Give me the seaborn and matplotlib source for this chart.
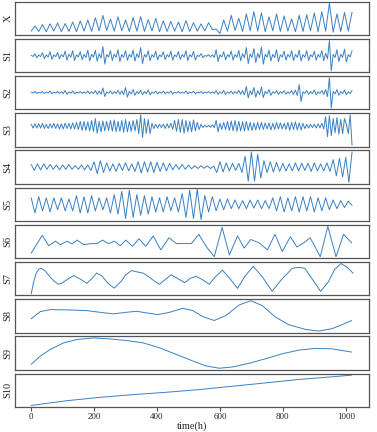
import numpy as np
import matplotlib
matplotlib.use('Agg')
import matplotlib.pyplot as plt
import seaborn as sns

# sampling times (h)
t_x = np.arange(0, 1024, 12)
t_fast = np.arange(0, 1024, 6)
t_s4 = np.arange(0, 1030, 10)
t_s5 = np.arange(0, 1024, 12)

# original series: daily troughs (t=0,24,...) and peaks (t=12,36,...)
x_troughs = [0.8, 0.7, 0.6, 0.8, 0.6, 0.7, 0.6, 0.8, 0.7, 0.9, 1.0, 0.8, 0.9, 0.7, 0.8,
             0.7, 0.9, 0.6, 0.7, 0.8, 0.6, 0.7, 0.8, 0.9, 1.3, 0.0, 0.8, 1.0, 0.7, 0.9,
             0.8, 0.6, 0.9, 0.7, 0.8, 0.6, 0.7, 0.9, 0.6, 0.8, 0.5, 0.7, 0.8]
x_peaks = [2.5, 3.0, 3.2, 3.5, 3.3, 3.8, 4.2, 4.5, 5.2, 6.0, 4.8, 5.5, 4.5, 5.3, 5.6,
           4.6, 5.0, 4.2, 4.0, 3.8, 4.3, 3.6, 3.2, 3.6, 1.5, 4.5, 6.0, 5.0, 6.5, 7.2,
           6.8, 5.5, 6.5, 5.8, 4.8, 6.0, 6.2, 6.8, 7.2, 10.0, 6.5, 7.0, 7.0]

s1 = [0.5, -0.6, 2.0, -1.8,  0.8, -0.7, 3.0, -2.6,  1.0, -1.2, 4.0, -3.5,  0.9, -0.8, 3.2, -2.8,
      1.2, -1.0, 4.5, -4.2,  1.5, -1.3, 5.0, -4.6,  1.0, -1.1, 4.2, -3.8,  1.4, -1.6, 5.5, -5.0,
      1.5, -1.2, 5.4, -5.2,  2.0, -2.2, 9.0, -8.0,  1.3, -1.2, 5.0, -4.5,  1.6, -1.5, 6.0, -5.6,
      1.2, -1.4, 5.0, -4.4,  1.5, -1.3, 5.6, -5.0,  2.0, -1.8, 8.0, -7.5,  1.3, -1.2, 5.0, -4.8,
      1.1, -1.3, 4.6, -4.0,  1.0, -0.9, 4.0, -3.7,  1.2, -1.1, 4.5, -4.2,  1.0, -1.0, 4.2, -3.6,
      1.3, -1.2, 5.0, -4.7,  1.1, -1.0, 4.4, -4.1,  0.5, -0.6, 2.2, -1.8,  0.3, -0.4, 1.2, -1.0,
      1.0, -1.5, 6.0, -5.5,  1.0, -1.1, 4.0, -3.8,  1.2, -1.0, 4.6, -4.3,  1.3, -1.4, 5.2, -4.8,
      2.0, -1.8, 8.0, -7.6,  1.8, -1.6, 7.0, -6.5,  2.2, -2.0, 8.5, -8.0,  1.4, -1.3, 5.5, -5.0,
      1.5, -1.6, 6.0, -5.6,  1.1, -1.2, 4.5, -4.2,  1.3, -1.2, 5.0, -4.6,  1.4, -1.5, 5.6, -5.1,
      1.2, -1.3, 5.0, -4.7,  1.1, -1.0, 4.5, -4.2,  1.3, -1.2, 5.0, -4.8,  2.5, -3.0, 15.0, -14.5,
      1.5, -1.6, 6.0, -5.5,  1.6, -1.5, 6.5, -6.0,  1.3, -1.2, 5.0]

s2 = [0.4, -0.5, 1.0, -0.9,  0.3, -0.4, 0.9, -1.0,  0.6, -0.7, 1.5, -1.3,  0.4, -0.5, 1.0, -0.9,
      0.8, -1.0, 2.0, -1.8,  0.6, -0.7, 1.5, -1.4,  0.4, -0.5, 1.1, -0.9,  0.6, -0.7, 1.5, -1.3,
      0.8, -0.9, 2.0, -1.8,  1.5, -1.8, 4.5, -4.0,  0.6, -0.7, 1.5, -1.4,  0.8, -0.9, 2.0, -1.8,
      1.8, -2.0, 5.0, -4.6,  1.2, -1.4, 3.0, -2.7,  1.0, -1.1, 2.5, -2.2,  1.0, -1.2, 2.4, -2.3,
      0.6, -0.7, 1.5, -1.4,  0.5, -0.6, 1.4, -1.3,  0.6, -0.7, 1.5, -1.4,  0.4, -0.5, 1.0, -0.9,
      0.6, -0.7, 1.6, -1.4,  0.6, -0.6, 1.4, -1.3,  0.4, -0.4, 1.0, -0.9,  0.3, -0.4, 0.9, -0.8,
      0.8, -0.9, 2.0, -1.8,  0.7, -0.9, 2.0, -1.9,  0.6, -0.7, 1.5, -1.4,  0.8, -0.9, 2.1, -1.8,
      2.0, -2.4, 6.0, -5.5,  1.8, -2.0, 5.0, -4.6,  2.0, -2.2, 5.5, -5.0,  1.2, -1.3, 3.0, -2.8,
      0.8, -0.9, 2.0, -1.8,  0.8, -0.8, 1.9, -1.8,  0.8, -0.9, 2.0, -1.9,  2.5, -3.0, 8.0, -9.0,
      0.8, -0.9, 2.0, -1.8,  1.0, -1.1, 2.5, -2.3,  0.8, -0.9, 2.0, -1.9,  3.0, -4.0, 15.0, -15.5,
      1.2, -1.4, 3.0, -2.8,  1.0, -1.1, 2.5, -2.3,  0.8, -0.9, 2.0]

s3 = [2, -2, 2.5, -2,  2.5, -2, 3, -2.5,  2, -2.5, 2.5, -2,  3, -2.5, 2.5, -3,
      2.5, -3, 3, -2.5,  3, -3, 3.5, -3,  4, -3.5, 5, -4.5,  5, -4.5, 4.5, -5,
      6, -5.5, 8, -7.5,  5, -6, 5.5, -5,  5, -4.5, 6, -5.5,  6.5, -6, 5, -5.5,
      6, -6.5, 7, -6,  5, -5.5, 6, -5,  7, -8, 12, -12,  8, -7.5, 7, -8,
      3, -2.5, 2, -2,  2, -1.5, 2, -2.5,  2.5, -2, 3, -3.5,  6, -5.5, 7, -6.5,
      7, -7.5, 6, -6,  5, -6, 6.5, -5,  4, -3.5, 2, -1.5,  1, -1, 1, -1.2,
      1.5, -1.5, 6, -6,  3, -3.5, 4, -3.5,  5, -4.5, 5.5, -5,  6, -5.5, 5, -5,
      4.5, -5, 5, -4.5,  4, -4.5, 3.5, -4,  4, -3.5, 4, -3.5,  3.5, -3, 3.5, -4,
      3, -3.5, 4, -3,  3.5, -3, 3, -3.5,  4, -4.5, 4, -3.5,  4.5, -4, 3.5, -4,
      3, -2.5, 2, -2,  2, -1.5, 2, -2,  2.5, -2, 3, -3,  10, -11, 11, -10,
      8, -7, 9, -8.5,  7, -8, 8, 2,  -8, 12, -20]

s4 = [2.5, -3, 3, -2.5, 3,
      -2, 2.5, -2, 2, -2.5, 2, -2, 2.5, -2, 1.5, -2, 2, -2.5, 2, -3,
      5, -6, 6, -5, 4,
      -3.5, 3, -4, 3.5, -3, 4, -3.5, 3, -4,
      5, -5.5, 5, -4.5, 5, -5, 4.5,
      -4, 4, -3.5, 3.5,
      -2.5, 2.5, -2, 2.5, -2, 2, -1.5,
      1.3, -1.2, 1.3, -1, 1.2, -1.3, 1,
      -5, 5, -4.5, 4,
      -3.5, 3.5, -3, 3.5, -5,
      10, -13, 14, -13, 12, -10,
      6, -5, 5, -4.5, 4.5, -4,
      3.5, -3.5, 3, -3.5, 4, -3.5, 3.5, -3, 3.5, -4, 4, -3.5, 3, -3.5, 4, -4,
      7, -8, 8, -9, 9, -14, 14]

s5 = [6, -8,
      7, -6, 6, -7, 6, -5, 6, -6, 5, -6,
      8, -8, 7, -8, 8,
      -6, 6, -5, 6,
      -8, 9, -9,
      12, -13, 13, -12,
      9, -10, 8, -9,
      7, -7, 6, -7, 7, -6, 6, -7,
      10, -12, 13, -13, 14, -14,
      8, -7, 7, -6,
      5, -5, 5, -4,
      4, -4, 3.5, -4, 4, -3.5, 4, -4, 3.5, -4,
      6, -6, 7, -7, 6, -6, 7, -7, 7, -6, 7, -7, 6, -6, 6, -5,
      4, -4, 3.5, -3, 3, -1]

t_s6 = [0, 35, 56, 77, 93, 114, 130, 146, 167, 188, 209, 227, 246, 265, 283, 301, 322, 343,
        364, 388, 412, 438, 462, 483, 509, 533, 556, 582, 607, 630, 656, 677, 698, 725, 751,
        775, 798, 824, 845, 866, 887, 919, 943, 969, 993, 1019]
s6 = [-10, 7.3, -2.7, 1.7, -1.7, 1.7, -1, 2.7, -1.7, -0.7, -0.7, 2.7, -0.7, 1.7, -2.7, 2.7,
      -3.3, 4, -3.3, 6.7, -6.7, 5, -0.7, -0.5, -0.7, 8.3, -3.3, -13.3, 15, -11.7, 6.7, -5,
      3.3, 0, -6.7, 8.3, -8.3, 6, -4, 0, 5, -13.3, 16, -13.3, 8.3, 0]

t_s7 = [0, 8, 16, 24, 32, 45, 60, 75, 87, 100, 115, 135, 155, 177, 192, 208, 225, 245, 264,
        285, 300, 319, 340, 356, 375, 392, 408, 425, 445, 465, 488, 505, 524, 545, 566, 585,
        608, 630, 656, 680, 706, 735, 766, 795, 830, 850, 870, 895, 920, 945, 965, 985, 1005, 1023]
s7 = [-14.7, -2, 7, 11, 12, 9, 3, -2, -4.7, -3, 0.5, 4.3, 1, -3.7, 1, 7, 4, -4, -8.7,
      -2, 5, 9.7, 8, 7, 3, -1.5, -4.7, 0, 5.3, 1.5, -3, 1.5, 3.7, 0, -4.7, 3,
      10, 2, -9, 4, 14, 3, -12, 0, 12, 13, 12, 0, -12, -2, 11, 17, 13, 7]

t_s8 = [0, 29, 61, 114, 177, 219, 261, 303, 335, 366, 403, 440, 482, 514, 545, 582, 619,
        661, 698, 735, 777, 819, 872, 914, 956, 988, 1019]
s8 = [13.7, 21, 23, 22.7, 22, 20.3, 18.7, 20.3, 21.3, 19.7, 18, 20.3, 24.3, 22, 16, 12, 17,
      27.7, 32, 27, 15.3, 7.7, 3, 1.3, 3.7, 7.7, 12]

t_s9 = [0, 29, 61, 103, 145, 198, 250, 303, 356, 408, 461, 514, 556, 598, 640, 693, 745,
        798, 851, 903, 956, 1019]
s9 = [6.7, 15, 21.7, 28.3, 31.7, 33.3, 32.3, 30.7, 28.3, 23.3, 16.7, 10, 5, 2.7, 4, 7.7,
      12.3, 17.3, 21, 22.7, 22.3, 19]

t_s10 = [0, 114, 219, 324, 429, 535, 640, 745, 851, 956, 1019]
s10 = [6, 10.7, 14, 16.7, 19, 21.7, 25, 28.3, 31.7, 34.3, 36]

x_series = np.column_stack([x_troughs, x_peaks]).ravel()

panels = [
    ('X', t_x, x_series),
    ('S1', t_fast, s1),
    ('S2', t_fast, s2),
    ('S3', t_fast, s3),
    ('S4', t_s4, s4),
    ('S5', t_s5, s5),
    ('S6', t_s6, s6),
    ('S7', t_s7, s7),
    ('S8', t_s8, s8),
    ('S9', t_s9, s9),
    ('S10', t_s10, s10),
]

sns.set_style('white')
plt.rcParams['font.family'] = ['Liberation Serif', 'DejaVu Serif']

fig, axes = plt.subplots(len(panels), 1, figsize=(3.77, 4.32), dpi=100, sharex=True)
fig.subplots_adjust(left=0.04, right=0.979, top=0.996, bottom=0.058, hspace=0.115)

for ax, (name, t, vals) in zip(axes, panels):
    sns.lineplot(x=np.asarray(t), y=np.asarray(vals, dtype=float), ax=ax,
                 color='#3a80c2', linewidth=0.7, solid_joinstyle='round')
    ax.set_ylabel(name, fontsize=7.5, labelpad=2)
    ax.set_yticks([])
    for sp in ax.spines.values():
        sp.set_color('#555555')
        sp.set_linewidth(0.9)
    ax.tick_params(axis='x', bottom=False, labelbottom=False)

axes[-1].set_xticks([0, 200, 400, 600, 800, 1000])
axes[-1].tick_params(axis='x', bottom=True, labelbottom=True, labelsize=6.5,
                     length=3, width=0.8, color='#555555', pad=1.5)
axes[-1].set_xlabel('time(h)', fontsize=7.5, labelpad=0)

fig.savefig('out.png', dpi=100)
